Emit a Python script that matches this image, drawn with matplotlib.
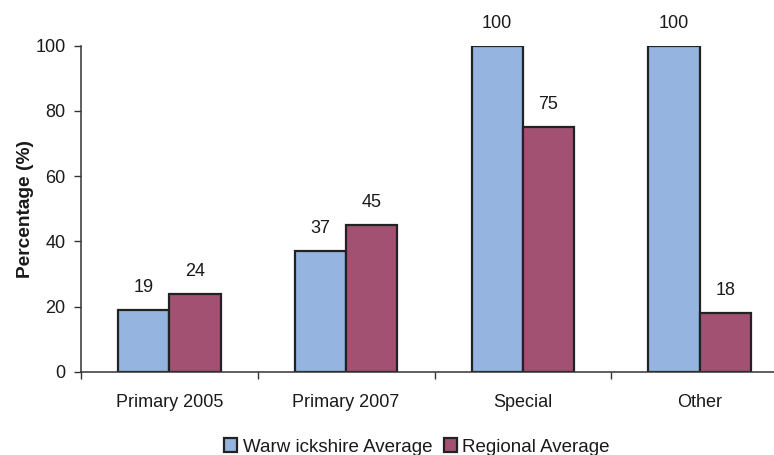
import matplotlib
matplotlib.use("Agg")
import matplotlib.pyplot as plt
import numpy as np

categories = ["Primary 2005", "Primary 2007", "Special", "Other"]
warwickshire = [19, 37, 100, 100]
regional = [24, 45, 75, 18]
series_names = ["Warw ickshire Average", "Regional Average"]
yticks = [0, 20, 40, 60, 80, 100]

plt.rcParams["font.family"] = ["Liberation Sans", "DejaVu Sans"]

BLUE = "#95b4df"
RED = "#a25173"
EDGE = "#222222"
TEXT = "#1a1a1a"

fig = plt.figure(figsize=(7.74, 4.55), dpi=100)
ax = fig.add_axes([81 / 774, 1 - 372 / 455, (788 - 81) / 774, (372 - 45.5) / 455])

x = np.arange(len(categories))
w = 0.29
b1 = ax.bar(x - w / 2, warwickshire, w, color=BLUE, edgecolor=EDGE, linewidth=1.6,
            label=series_names[0])
b2 = ax.bar(x + w / 2, regional, w, color=RED, edgecolor=EDGE, linewidth=1.6,
            label=series_names[1])

for bars, vals in ((b1, warwickshire), (b2, regional)):
    for rect, v in zip(bars, vals):
        ax.annotate(f"{v}", (rect.get_x() + rect.get_width() / 2, v),
                    xytext=(0, 10), textcoords="offset points",
                    ha="center", va="bottom", fontsize=13, color=TEXT)

ax.set_xlim(-0.5, len(categories) - 0.5)
ax.set_ylim(0, 100)
ax.set_yticks(yticks)
ax.set_yticklabels([str(t) for t in yticks])
ax.set_xticks(x)
ax.set_xticklabels(categories)
ax.set_xticks(np.arange(len(categories) + 1) - 0.5, minor=True)

ax.tick_params(axis="x", which="major", length=0, pad=16, labelsize=13, colors=TEXT)
ax.tick_params(axis="x", which="minor", length=5, width=1, color="#333333")
ax.tick_params(axis="y", length=5, width=1, color="#333333", pad=6, labelsize=13,
               labelcolor=TEXT)

for s in ("top", "right"):
    ax.spines[s].set_visible(False)
for s in ("left", "bottom"):
    ax.spines[s].set_color("#333333")
    ax.spines[s].set_linewidth(1.1)

ax.set_ylabel("Percentage (%)", fontsize=13.8, fontweight="bold", color=TEXT, labelpad=1)

leg = fig.legend(handles=[b1, b2], loc="center", bbox_to_anchor=(417 / 774, 1 - 447 / 455),
                 ncol=2, frameon=False, fontsize=13.5, handlelength=0.7, handleheight=0.7,
                 handletextpad=0.3, columnspacing=0.6, borderpad=0)
for t in leg.get_texts():
    t.set_color(TEXT)

fig.savefig("out.png", dpi=100)
